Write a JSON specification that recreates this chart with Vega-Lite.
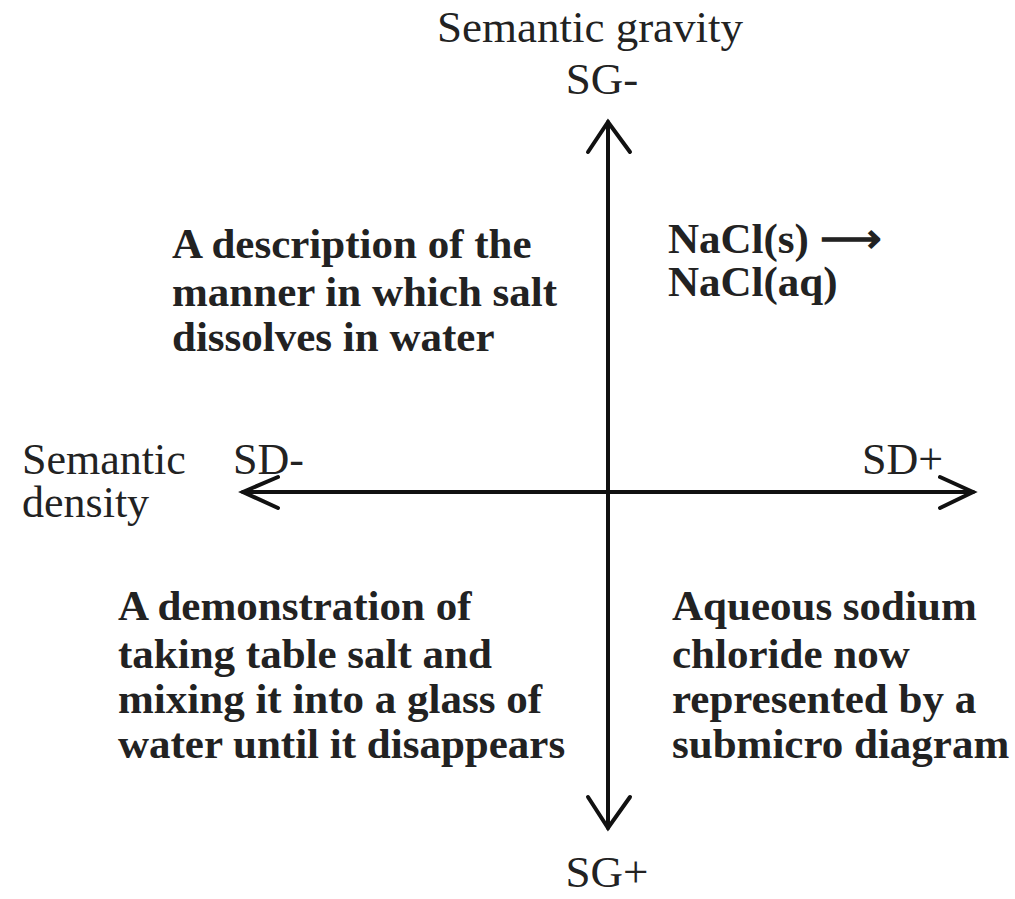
{
  "$schema": "https://vega.github.io/schema/vega-lite/v6.json",
  "width": 1015,
  "height": 899,
  "padding": 0,
  "autosize": {"type": "none"},
  "background": "white",
  "config": {"view": {"stroke": null}},
  "datasets": {
    "arrows": [
      {"seg": "v", "k": 0, "x": 0, "y": 370},
      {"seg": "v", "k": 1, "x": 0, "y": -336},
      {"seg": "h", "k": 0, "x": -365, "y": 0},
      {"seg": "h", "k": 1, "x": 365, "y": 0},
      {"seg": "up", "k": 0, "x": -20, "y": 340},
      {"seg": "up", "k": 1, "x": 0, "y": 370},
      {"seg": "up", "k": 2, "x": 22, "y": 340},
      {"seg": "down", "k": 0, "x": -20, "y": -305},
      {"seg": "down", "k": 1, "x": 0, "y": -336},
      {"seg": "down", "k": 2, "x": 22, "y": -305},
      {"seg": "left", "k": 0, "x": -330, "y": 15},
      {"seg": "left", "k": 1, "x": -365, "y": 0},
      {"seg": "left", "k": 2, "x": -330, "y": -16},
      {"seg": "right", "k": 0, "x": 332, "y": 15},
      {"seg": "right", "k": 1, "x": 365, "y": 0},
      {"seg": "right", "k": 2, "x": 332, "y": -16}
    ],
    "labels": [
      {"t": "Semantic gravity", "x": -18, "y": 464, "g": "c"},
      {"t": "SG-", "x": -6, "y": 412, "g": "c"},
      {"t": "SG+", "x": -1, "y": -381, "g": "c"},
      {"t": "Semantic", "x": -586, "y": 31, "g": "l"},
      {"t": "density", "x": -586, "y": -12, "g": "l"},
      {"t": "SD-", "x": -375, "y": 31, "g": "l"},
      {"t": "SD+", "x": 254, "y": 31, "g": "l"},
      {"t": "A description of the", "x": -436, "y": 247, "g": "q"},
      {"t": "manner in which salt", "x": -436, "y": 199, "g": "q"},
      {"t": "dissolves in water", "x": -436, "y": 154, "g": "q"},
      {"t": "NaCl(s)  ⟶", "x": 60, "y": 252, "g": "q"},
      {"t": "NaCl(aq)", "x": 60, "y": 209, "g": "q"},
      {"t": "A demonstration of", "x": -490, "y": -115, "g": "q"},
      {"t": "taking table salt and", "x": -490, "y": -163, "g": "q"},
      {"t": "mixing it into a glass of", "x": -490, "y": -208, "g": "q"},
      {"t": "water until it disappears", "x": -490, "y": -253, "g": "q"},
      {"t": "Aqueous sodium", "x": 64, "y": -115, "g": "q"},
      {"t": "chloride now", "x": 64, "y": -163, "g": "q"},
      {"t": "represented by a", "x": 64, "y": -208, "g": "q"},
      {"t": "submicro diagram", "x": 64, "y": -253, "g": "q"}
    ]
  },
  "encoding": {
    "x": {"field": "x", "type": "quantitative", "scale": {"domain": [-608, 407], "nice": false, "zero": false}, "axis": null},
    "y": {"field": "y", "type": "quantitative", "scale": {"domain": [-407, 492], "nice": false, "zero": false}, "axis": null}
  },
  "layer": [
    {
      "data": {"name": "arrows"},
      "mark": {"type": "line", "color": "#111111", "strokeWidth": 4, "strokeCap": "round", "strokeJoin": "miter"},
      "encoding": {
        "detail": {"field": "seg", "type": "nominal"},
        "order": {"field": "k", "type": "quantitative"}
      }
    },
    {
      "data": {"name": "labels"},
      "transform": [{"filter": "datum.g === 'c'"}],
      "mark": {"type": "text", "align": "center", "baseline": "middle", "font": "Liberation Serif", "fontSize": 45, "color": "#222222"},
      "encoding": {"text": {"field": "t"}}
    },
    {
      "data": {"name": "labels"},
      "transform": [{"filter": "datum.g === 'l'"}],
      "mark": {"type": "text", "align": "left", "baseline": "middle", "font": "Liberation Serif", "fontSize": 44, "color": "#222222"},
      "encoding": {"text": {"field": "t"}}
    },
    {
      "data": {"name": "labels"},
      "transform": [{"filter": "datum.g === 'q'"}],
      "mark": {"type": "text", "align": "left", "baseline": "middle", "font": "Liberation Serif", "fontSize": 43, "fontWeight": "bold", "color": "#222222"},
      "encoding": {"text": {"field": "t"}}
    }
  ]
}
